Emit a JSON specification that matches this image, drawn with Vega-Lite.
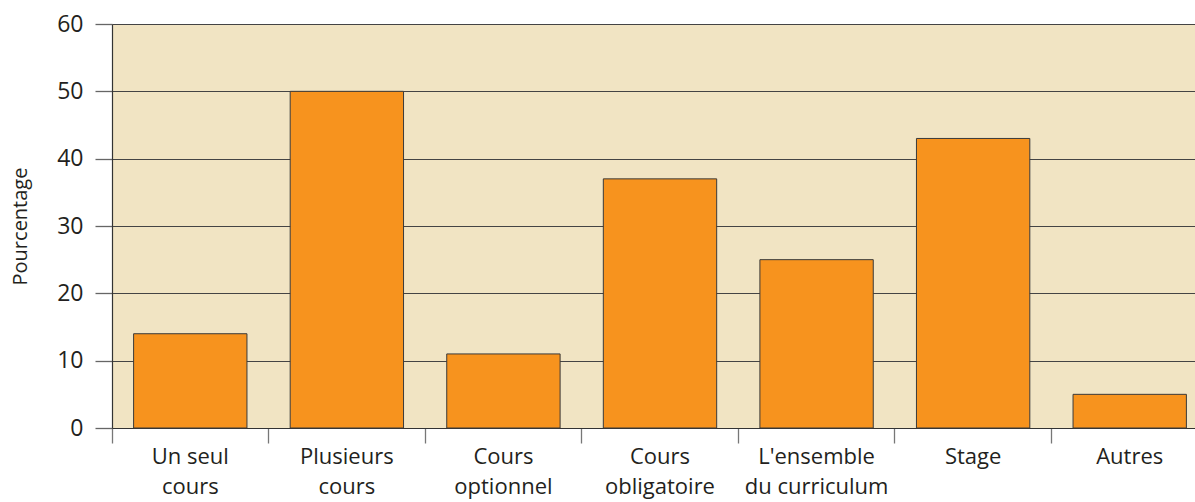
{
  "$schema": "https://vega.github.io/schema/vega-lite/v6.json",
  "autosize": {"type": "none"},
  "padding": {"left": 112, "top": 24, "right": 0, "bottom": 74},
  "width": 1096,
  "height": 404,
  "background": "white",
  "config": {
    "view": {"fill": "#F1E4C3", "stroke": null},
    "font": "Open Sans"
  },
  "data": {
    "values": [
      {"categorie": "Un seul|cours", "pourcentage": 14},
      {"categorie": "Plusieurs|cours", "pourcentage": 50},
      {"categorie": "Cours|optionnel", "pourcentage": 11},
      {"categorie": "Cours|obligatoire", "pourcentage": 37},
      {"categorie": "L'ensemble|du curriculum", "pourcentage": 25},
      {"categorie": "Stage", "pourcentage": 43},
      {"categorie": "Autres", "pourcentage": 5}
    ]
  },
  "mark": {"type": "bar", "color": "#F7931E", "stroke": "#3a3a3a", "strokeWidth": 1, "width": {"band": 0.724}},
  "encoding": {
    "x": {
      "field": "categorie",
      "type": "nominal",
      "sort": null,
      "scale": {"paddingInner": 0, "paddingOuter": 0},
      "axis": {
        "title": null,
        "labelAngle": 0,
        "labelExpr": "split(datum.label, '|')",
        "labelFontSize": 22,
        "labelLineHeight": 30,
        "labelColor": "#231F20",
        "labelPadding": 3,
        "bandPosition": 0,
        "tickSize": 15,
        "tickColor": "#777777",
        "tickWidth": 1.3,
        "domainColor": "#333333",
        "domainWidth": 1.2,
        "grid": false
      }
    },
    "y": {
      "field": "pourcentage",
      "type": "quantitative",
      "scale": {"domain": [0, 60], "nice": false},
      "axis": {
        "title": "Pourcentage",
        "titleFontSize": 20,
        "titleFontWeight": "normal",
        "titleColor": "#231F20",
        "titlePadding": 26,
        "values": [0, 10, 20, 30, 40, 50, 60],
        "labelFontSize": 23,
        "labelColor": "#231F20",
        "labelPadding": 12,
        "tickSize": 17,
        "tickColor": "#666666",
        "tickWidth": 1.3,
        "grid": true,
        "gridColor": "#444444",
        "gridWidth": 1.2,
        "gridOpacity": 1,
        "domainColor": "#333333",
        "domainWidth": 1.2
      }
    }
  }
}
